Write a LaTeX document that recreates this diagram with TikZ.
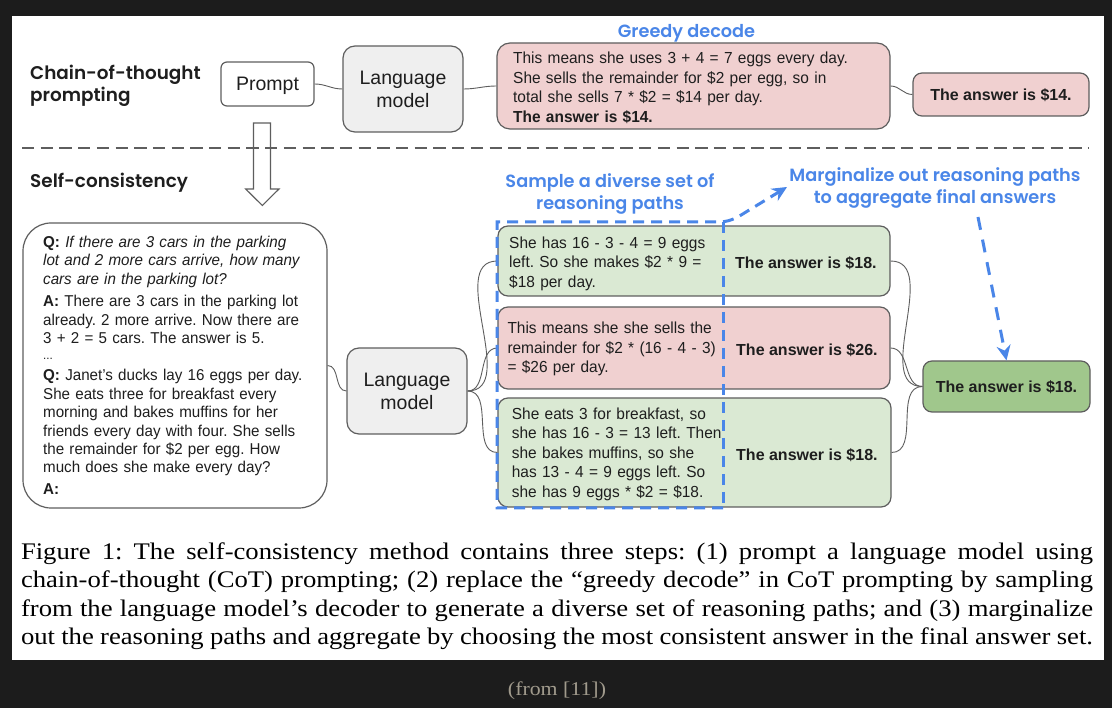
\documentclass[tikz,border=0pt]{standalone}
\usepackage{fontspec}
\setmainfont{Liberation Sans}
\newfontfamily\bodyfont[FakeStretch=0.965]{Liberation Sans}
\newfontfamily\headfont{Poppins SemiBold}
\newfontfamily\capfont[FakeStretch=1.12]{Liberation Serif}
\usetikzlibrary{arrows.meta}
\definecolor{bgdark}{HTML}{1C1C1C}
\definecolor{bordergray}{HTML}{5E5E5E}
\definecolor{lmgray}{HTML}{EFEFEF}
\definecolor{pinkfill}{HTML}{F0D0D0}
\definecolor{greenfill}{HTML}{DAE9D3}
\definecolor{finalgreen}{HTML}{A0C78C}
\definecolor{gblue}{HTML}{4A86E8}
\definecolor{capgray}{HTML}{A09A8C}
\definecolor{inkblack}{HTML}{1E1E1E}
\begin{document}
\frenchspacing
\begin{tikzpicture}[x=1pt,y=-1pt,
  box/.style={draw=bordergray, line width=1.2pt, inner sep=0pt, text=inkblack},
  lmbox/.style={box, fill=lmgray, rounded corners=12pt, align=center,
    font=\fontsize{19.5}{23}\selectfont},
  bodytxt/.style={inner sep=0pt, anchor=base west, align=left, text width=250pt,
    text=inkblack, font=\bodyfont\fontsize{16}{19.5}\selectfont},
  anstxt/.style={inner sep=0pt, anchor=base west, text=inkblack,
    font=\bfseries\fontsize{16}{19.5}\selectfont},
  headlbl/.style={inner sep=0pt, text=inkblack, align=left,
    font=\headfont\fontsize{18.4}{21.5}\selectfont},
  bluelbl/.style={inner sep=0pt, text=gblue, align=center,
    font=\headfont\fontsize{17.7}{22}\selectfont},
  conn/.style={draw=bordergray, line width=0.9pt},
  sepline/.style={draw=bordergray, line width=2.4pt, dash pattern=on 12.3pt off 6.4pt},
  hollow/.style={draw=bordergray, line width=1.1pt},
  bluedash/.style={draw=gblue, line width=3pt, dash pattern=on 11pt off 7pt},
  bluetip/.style={-{Stealth[length=15pt,width=14pt,inset=5pt]}},
  captxt/.style={inner sep=0pt, anchor=base, text=black,
    font=\capfont\fontsize{23.8}{28.5}\selectfont}
]
\useasboundingbox (0,0) rectangle (1112,708);
\fill[bgdark] (0,0) rectangle (1112,708);
\fill[white] (12,16) rectangle (1104,660);

% ---------- top: chain-of-thought ----------
\node[headlbl, anchor=base west] (cotlbl) at (30,101.5) {Chain-of-thought\\prompting};
\node[box, fill=white, rounded corners=6pt, minimum width=93pt, minimum height=44pt,
  text depth=0pt, font=\fontsize{19.5}{23}\selectfont] (prompt1) at (267.5,84) {Prompt};
\node[lmbox, minimum width=120pt, minimum height=86pt] (lm1) at (403,89) {Language\\model};
\node[box, fill=pinkfill, rounded corners=13pt, minimum width=393pt, minimum height=86pt] (greedy) at (693.5,86) {};
\node[bodytxt, text width=370pt] (greedytxt) at (513,64)
  {This means she uses 3 + 4 = 7 eggs every day.\\
   She sells the remainder for \$2 per egg, so in\\
   total she sells 7 * \$2 = \$14 per day.\\
   \textbf{The answer is \$14.}};
\node[box, fill=pinkfill, rounded corners=9pt, minimum width=176pt, minimum height=43pt,
  text depth=0pt, font=\bfseries\fontsize{16}{19.5}\selectfont] (ans1) at (1001,94.5) {The answer is \$14.};
\node[bluelbl, anchor=base] (greedylbl) at (686.5,37.3) {Greedy decode};

\draw[conn] (prompt1.east) to[out=0,in=180] (lm1.west);
\draw[conn] (lm1.east) to[out=0,in=180] (greedy.west);
\draw[conn] (greedy.east) to[out=0,in=180] (ans1.west);

% ---------- separator and hollow arrow ----------
\draw[sepline] (22,148) -- (1088,148);
\draw[hollow] (253.5,123) -- (270.5,123) -- (270.5,189) -- (279,189) -- (262.3,205.5)
  -- (245.7,189) -- (253.5,189) -- cycle;

% ---------- bottom: self-consistency ----------
\node[headlbl, anchor=base west] (sclbl) at (30,187.7) {Self-consistency};

\node[box, fill=white, rounded corners=28pt, minimum width=304pt, minimum height=285pt] (prompt2) at (175,365.5) {};
\node[bodytxt, text width=290pt, font=\bodyfont\fontsize{15.7}{18.4}\selectfont] (prompt2txt) at (43,247.3)
  {\textbf{Q:} {\itshape If there are 3 cars in the parking\\
   lot and 2 more cars arrive, how many\\
   cars are in the parking lot?}\\[4.2pt]
   \textbf{A:} There are 3 cars in the parking lot\\
   already. 2 more arrive. Now there are\\
   3 + 2 = 5 cars. The answer is 5.\\[-2pt]
   {\fontsize{12}{12}\selectfont ...}\\[2.6pt]
   \textbf{Q:} Janet’s ducks lay 16 eggs per day.\\
   She eats three for breakfast every\\
   morning and bakes muffins for her\\
   friends every day with four. She sells\\
   the remainder for \$2 per egg. How\\
   much does she make every day?\\[3pt]
   \textbf{A:}};

\node[lmbox, minimum width=120pt, minimum height=86pt] (lm2) at (407,391) {Language\\model};

\node[box, fill=greenfill, rounded corners=10pt, minimum width=392pt, minimum height=70pt] (path1) at (694,261) {};
\node[box, fill=pinkfill, rounded corners=10pt, minimum width=392pt, minimum height=82pt] (path2) at (694,348) {};
\node[box, fill=greenfill, rounded corners=10pt, minimum width=393pt, minimum height=109pt] (path3) at (694.5,452.5) {};

\node[bodytxt] (path1txt) at (509,248.3)
  {She has 16 - 3 - 4 = 9 eggs\\ left. So she makes \$2 * 9 =\\ \$18 per day.};
\node[bodytxt] (path2txt) at (507.3,334)
  {This means she she sells the\\ remainder for \$2 * (16 - 4 - 3)\\ = \$26 per day.};
\node[bodytxt] (path3txt) at (511.7,419.3)
  {She eats 3 for breakfast, so\\ she has 16 - 3 = 13 left. Then\\ she bakes muffins, so she\\ has 13 - 4 = 9 eggs left. So\\ she has 9 eggs * \$2 = \$18.};

\node[anstxt] (path1ans) at (735,268.3) {The answer is \$18.};
\node[anstxt] (path2ans) at (736,356) {The answer is \$26.};
\node[anstxt] (path3ans) at (736,461) {The answer is \$18.};

\node[box, fill=finalgreen, rounded corners=9pt, minimum width=167pt, minimum height=51pt,
  text depth=0pt, font=\bfseries\fontsize{16}{19.5}\selectfont] (final) at (1006.5,386.5) {The answer is \$18.};

\draw[conn] (prompt2.east) to[out=0,in=180] (lm2.west);
\draw[conn] (lm2.east) to[out=0,in=180] (path1.west);
\draw[conn] (lm2.east) to[out=0,in=180] (path2.west);
\draw[conn] (lm2.east) to[out=0,in=180] (path3.west);
\draw[conn] (path1.east) to[out=0,in=180] (final.west);
\draw[conn] (path2.east) to[out=0,in=180] (final.west);
\draw[conn] (path3.east) to[out=0,in=180] (final.west);

\node[bluelbl, anchor=base] (samplelbl) at (610,209.3) {Sample a diverse set of\\reasoning paths};
\node[bluelbl, anchor=base] (marglbl) at (935,204) {Marginalize out reasoning paths\\to aggregate final answers};

% blue dashed sampling frame and arrows
\coordinate (margtip) at (787,187);
\coordinate (margstart) at (978,217);
\draw[bluedash, bluetip] (723,508) -- (497,508) -- (497,222) -- (717,222)
  .. controls (729,222) and (735,219) .. (746,212) -- (margtip);
\draw[bluedash] (723,222) -- (723,508);
\draw[bluedash, bluetip, dash pattern=on 13pt off 10pt] (margstart) -- (final.north);

% ---------- caption ----------
\node[captxt] (cap1) at (557,559.3) {\makebox[1072pt][s]{Figure 1: The self-consistency method contains three steps: (1) prompt a language model using}};
\node[captxt] (cap2) at (557,587.8) {\makebox[1072pt][s]{chain-of-thought (CoT) prompting; (2) replace the “greedy decode” in CoT prompting by sampling}};
\node[captxt] (cap3) at (557,616.3) {\makebox[1072pt][s]{from the language model’s decoder to generate a diverse set of reasoning paths; and (3) marginalize}};
\node[captxt] (cap4) at (557,644.8) {\makebox[1072pt][s]{out the reasoning paths and aggregate by choosing the most consistent answer in the final answer set.}};
\node[inner sep=0pt, anchor=base, text=capgray, font=\capfont\fontsize{19.5}{23}\selectfont] (source) at (557,695) {(from [11])};
\end{tikzpicture}
\end{document}
